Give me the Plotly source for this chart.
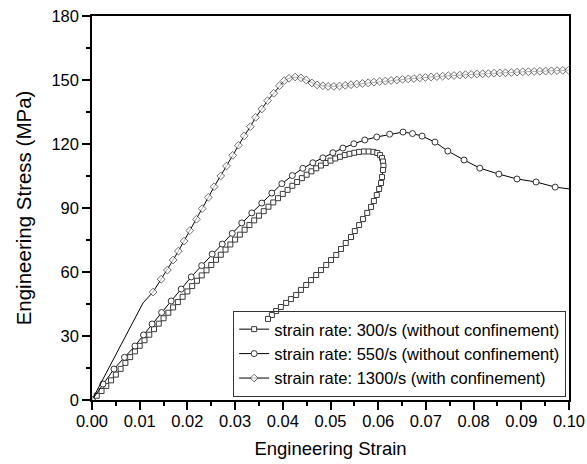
import plotly.graph_objects as go

# ---- data ----
strain_300 = [0.0000, 0.0010, 0.0020, 0.0030, 0.0040, 0.0050, 0.0060, 0.0070, 0.0080, 0.0090,
              0.0100, 0.0110, 0.0120, 0.0130, 0.0140, 0.0150, 0.0160, 0.0170, 0.0180, 0.0190,
              0.0200, 0.0210, 0.0220, 0.0230, 0.0240, 0.0250, 0.0260, 0.0270, 0.0280, 0.0290,
              0.0300, 0.0310, 0.0320, 0.0330, 0.0340, 0.0350, 0.0360, 0.0370, 0.0380, 0.0390,
              0.0400, 0.0410, 0.0420, 0.0430, 0.0440, 0.0450, 0.0460, 0.0470, 0.0480, 0.0490,
              0.0500, 0.0510, 0.0520, 0.0530, 0.0540, 0.0550, 0.0560, 0.0570, 0.0580, 0.0590,
              0.0598, 0.0604, 0.0608, 0.0610, 0.0611, 0.0610, 0.0608, 0.0606, 0.0602, 0.0597,
              0.0591, 0.0585, 0.0577, 0.0568, 0.0560, 0.0551, 0.0543, 0.0532, 0.0522, 0.0512,
              0.0501, 0.0491, 0.0480, 0.0470, 0.0459, 0.0449, 0.0438, 0.0428, 0.0417, 0.0407,
              0.0396, 0.0386, 0.0377, 0.0369]
stress_300 = [0.0, 2.0, 4.2, 6.6, 9.2, 11.9, 14.6, 17.4, 20.1, 22.8,
              25.4, 28.0, 30.6, 33.2, 35.8, 38.3, 40.9, 43.4, 45.9, 48.4,
              50.9, 53.4, 55.9, 58.4, 60.8, 63.3, 65.7, 68.1, 70.5, 72.9,
              75.2, 77.5, 79.8, 82.0, 84.2, 86.4, 88.5, 90.6, 92.6, 94.6,
              96.6, 98.5, 100.4, 102.2, 104.0, 105.6, 107.2, 108.6, 109.9, 111.1,
              112.2, 113.2, 114.0, 114.8, 115.4, 115.9, 116.3, 116.5, 116.5, 116.3,
              115.8, 114.8, 113.4, 111.8, 109.8, 107.8, 104.5, 101.7, 98.9, 96.1,
              93.3, 90.5, 87.7, 84.8, 82.0, 79.2, 76.4, 73.6, 70.8, 68.0,
              65.6, 63.3, 60.9, 58.6, 56.2, 53.9, 51.6, 49.2, 47.3, 45.5,
              43.6, 41.7, 39.8, 38.0]

strain_550 = [0.0000, 0.0023, 0.0046, 0.0068, 0.0090, 0.0108, 0.0126, 0.0146, 0.0166, 0.0187,
              0.0208, 0.0230, 0.0252, 0.0273, 0.0294, 0.0314, 0.0335, 0.0356, 0.0377, 0.0398,
              0.0420, 0.0442, 0.0463, 0.0484, 0.0505, 0.0526, 0.0549, 0.0572, 0.0597, 0.0624,
              0.0652, 0.0672, 0.0692, 0.0719, 0.0746, 0.0780, 0.0813, 0.0853, 0.0891, 0.0931,
              0.0971, 0.1008]
stress_550 = [0.0, 7.5, 14.5, 20.0, 25.3, 30.5, 35.6, 41.0, 46.4, 52.0,
              57.7, 63.0, 68.4, 73.1, 78.1, 83.0, 87.7, 92.3, 97.0, 101.4,
              105.2, 108.6, 111.2, 113.5, 115.9, 118.1, 120.1, 121.9, 123.3, 124.6,
              125.6, 124.9, 123.7, 120.9, 116.7, 112.5, 108.7, 105.9, 103.6, 102.2,
              99.8, 98.7]

strain_1300 = [0.0000, 0.0107, 0.0128, 0.0145, 0.0158, 0.0170, 0.0181, 0.0193, 0.0205, 0.0219,
               0.0231, 0.0244, 0.0256, 0.0270, 0.0282, 0.0295, 0.0307, 0.0319, 0.0332, 0.0343,
               0.0356, 0.0368, 0.0381, 0.0393, 0.0403, 0.0413, 0.0426, 0.0438, 0.0449, 0.0461,
               0.0472, 0.0484, 0.0495, 0.0507, 0.0519, 0.0531, 0.0543, 0.0555, 0.0567, 0.0579,
               0.0591, 0.0603, 0.0615, 0.0627, 0.0639, 0.0651, 0.0663, 0.0675, 0.0687, 0.0699,
               0.0711, 0.0723, 0.0735, 0.0747, 0.0759, 0.0771, 0.0783, 0.0795, 0.0807, 0.0819,
               0.0831, 0.0843, 0.0855, 0.0867, 0.0879, 0.0891, 0.0903, 0.0915, 0.0927, 0.0939,
               0.0951, 0.0963, 0.0975, 0.0987, 0.0999]
stress_1300 = [0.0, 45.5, 50.6, 56.6, 60.9, 65.6, 69.8, 74.5, 79.4, 84.7,
               89.7, 95.0, 100.0, 105.0, 109.7, 114.7, 119.4, 123.8, 128.1, 132.5,
               136.4, 140.3, 143.8, 147.3, 149.7, 150.8, 151.4, 151.0, 150.0, 148.6,
               147.7, 147.3, 147.0, 147.0, 147.2, 147.5, 147.8, 148.1, 148.4, 148.7,
               149.0, 149.3, 149.5, 149.8, 150.0, 150.3, 150.5, 150.7, 151.0, 151.2,
               151.4, 151.6, 151.8, 152.0, 152.1, 152.3, 152.5, 152.6, 152.8, 152.9,
               153.0, 153.2, 153.3, 153.4, 153.5, 153.7, 153.8, 153.9, 154.0, 154.1,
               154.2, 154.3, 154.4, 154.5, 154.6]

labels = ["strain rate: 300/s (without confinement)",
          "strain rate: 550/s (without confinement)",
          "strain rate: 1300/s (with confinement)"]

FONT = "Liberation Sans, Arial, sans-serif"

# the kink point of the 1300/s curve carries no symbol
sizes_1300 = [6] * len(strain_1300)
sizes_1300[1] = 0

fig = go.Figure()
fig.add_trace(go.Scatter(
    x=strain_300, y=stress_300, mode="lines+markers", name=labels[0],
    line=dict(color="black", width=1),
    marker=dict(symbol="square", size=5, color="white", line=dict(color="#3a3a3a", width=1))))
fig.add_trace(go.Scatter(
    x=strain_550, y=stress_550, mode="lines+markers", name=labels[1],
    line=dict(color="black", width=1),
    marker=dict(symbol="circle", size=6, color="white", line=dict(color="#333333", width=1))))
fig.add_trace(go.Scatter(
    x=strain_1300, y=stress_1300, mode="lines+markers", name=labels[2],
    line=dict(color="black", width=1),
    marker=dict(symbol="diamond", size=sizes_1300, color="white", line=dict(color="#333333", width=1))))

axis_common = dict(
    showline=True, linecolor="black", linewidth=1.5, mirror=True,
    ticks="outside", ticklen=8, tickwidth=1.5, tickcolor="black",
    showgrid=False, zeroline=False, automargin=False,
    tickfont=dict(family=FONT, size=16.5, color="black"),
)

fig.update_xaxes(
    range=[0, 0.1], dtick=0.01, tick0=0, tickformat=".2f", ticklabelstandoff=-3,
    minor=dict(ticks="outside", ticklen=4, tickwidth=1.5, tickcolor="black", dtick=0.005, showgrid=False),
    title=dict(text="Engineering Strain", font=dict(family=FONT, size=18.5, color="black"), standoff=14),
    **axis_common)
fig.update_yaxes(
    range=[0, 180], dtick=30, tick0=0,
    minor=dict(ticks="outside", ticklen=4, tickwidth=1.5, tickcolor="black", dtick=15, showgrid=False),
    title=dict(text="Engineering Stress (MPa)", font=dict(family=FONT, size=20.5, color="black"), standoff=14),
    **axis_common)

fig.update_layout(
    width=587, height=464,
    margin=dict(l=92, r=18, t=16, b=64),
    paper_bgcolor="white", plot_bgcolor="white",
    font=dict(family=FONT, color="black"),
    legend=dict(
        x=0.994, y=0.008, xanchor="right", yanchor="bottom",
        bgcolor="rgba(255,255,255,0)", bordercolor="#333333", borderwidth=1,
        font=dict(family=FONT, size=16.5, color="black"),
        tracegroupgap=0,
    ),
)

fig.write_html("out.html")
